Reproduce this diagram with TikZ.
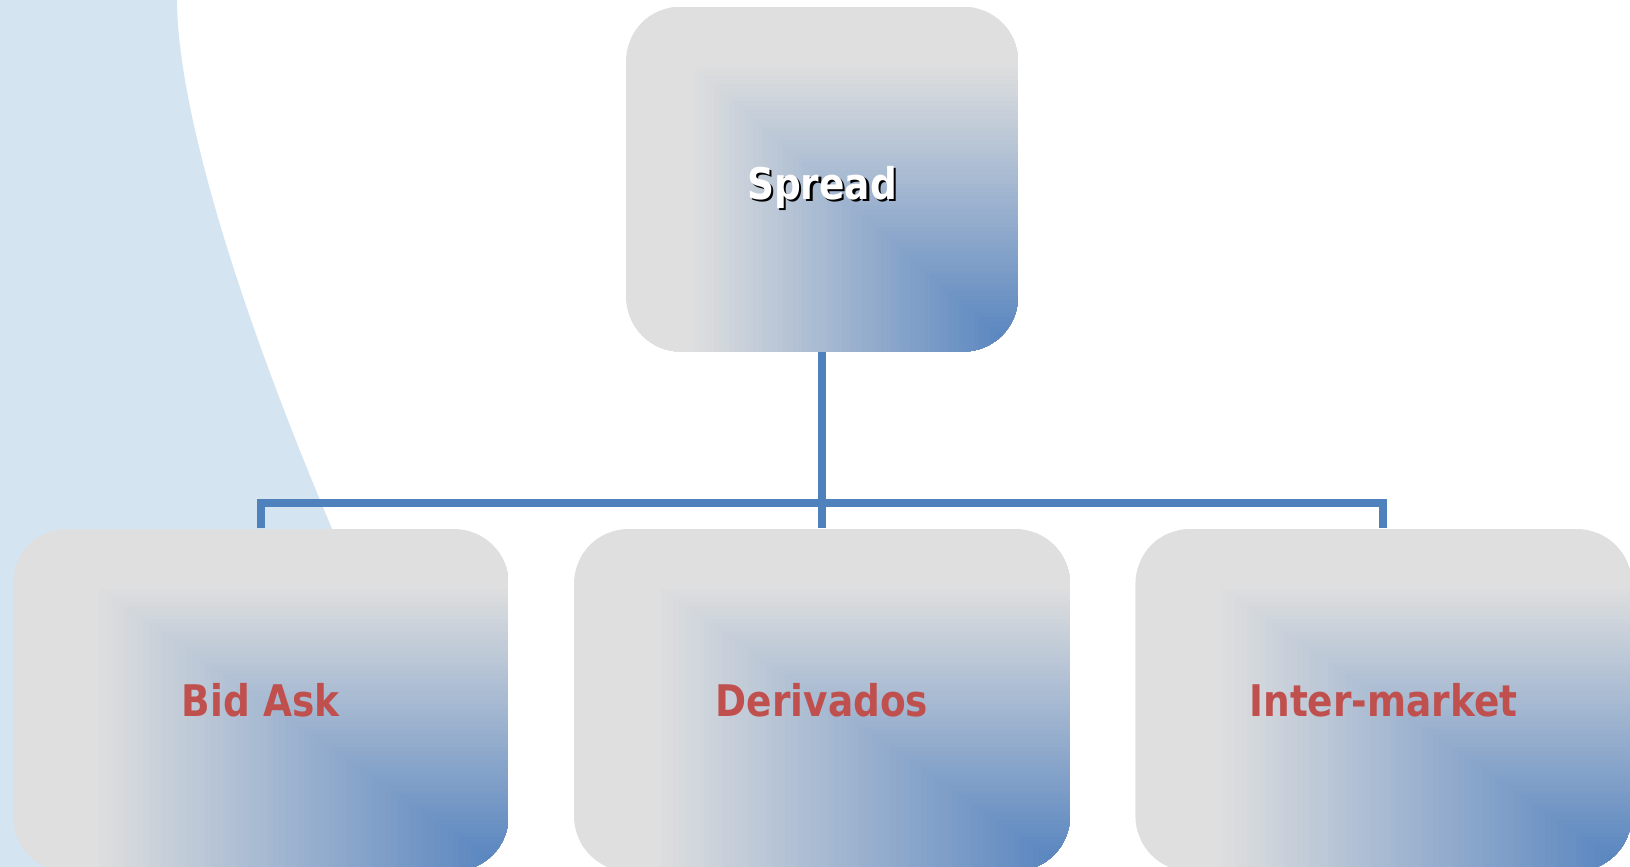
\documentclass[tikz,border=0pt]{standalone}
\usepackage{fontspec}
\setmainfont{DejaVu Sans}[FakeStretch=0.86]
\usetikzlibrary{positioning,calc}
\definecolor{bgblue}{RGB}{213,228,241}
\definecolor{boxgray}{RGB}{223,223,223}
\definecolor{boxblue}{RGB}{84,130,190}
\definecolor{linkblue}{RGB}{79,129,189}
\definecolor{labelred}{RGB}{192,80,77}
\newcommand\shadetext[1]{\raisebox{-2mm}[0pt][0pt]{\makebox[0pt][l]{\kern0.7pt\raisebox{-0.7pt}{\color{black}#1}}{\color{white}#1}}}
\tikzset{
  grad/.style={path picture={
    \foreach \i in {80,79,...,1}{
      \pgfmathsetmacro\t{\i/80}
      \pgfmathtruncatemacro\g{min(100,120*\t)}
      \fill[sharp corners, boxgray!\g!boxblue] (path picture bounding box.south east) rectangle ($(path picture bounding box.south east)!\t!(path picture bounding box.north west)$);
    }}}
}
\begin{document}
\begin{tikzpicture}[
  box/.style={grad, rounded corners=5.5mm, inner sep=0pt, minimum width=4.96cm, minimum height=3.42cm, font=\bfseries\fontsize{12.4}{14}\selectfont, text=labelred},
  topbox/.style={box, minimum width=3.92cm, minimum height=3.45cm},
  link/.style={linkblue, line width=0.8mm}]
  \fill[white] (0,0) rectangle (16.3,8.67);
  \useasboundingbox (0,0) rectangle (16.3,8.67);
  \fill[bgblue] (0,8.67) -- (1.77,8.67) .. controls (1.77,7.9) and (2.1,6.3) .. (3.25,3.55) -- (4.7,0) -- (0,0) -- cycle;

  \node[box] (derivados) at (8.22,1.67) {Derivados};
  \node[box, left=0.64cm of derivados] (bidask) {Bid Ask};
  \node[box, right=0.64cm of derivados] (inter) {Inter-market};
  \node[topbox, above=1.76cm of derivados] (spread) {\shadetext{Spread}};

  \coordinate (bar) at ([yshift=2.5mm]derivados.north);
  \draw[link] (spread.south) -- (derivados.north);
  \draw[link] (bidask.north) |- (bar) -| (inter.north);
\end{tikzpicture}
\end{document}
